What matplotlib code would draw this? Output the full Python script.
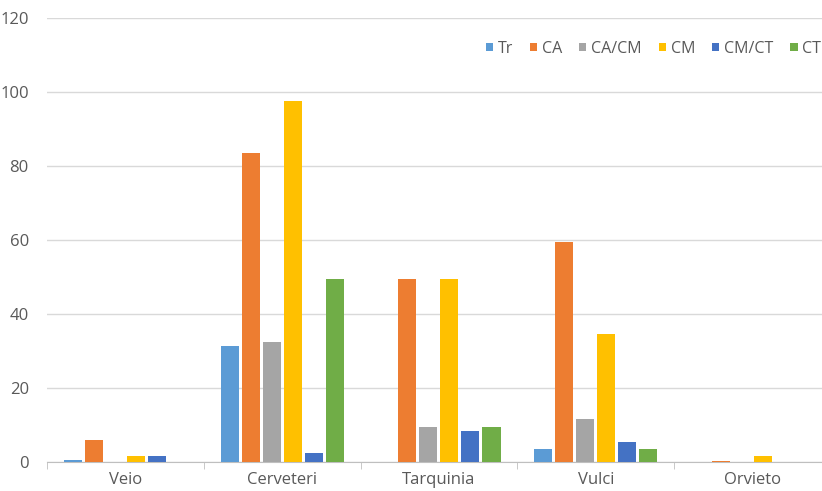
import matplotlib
matplotlib.use("Agg")
import matplotlib.pyplot as plt
import numpy as np

plt.rcParams['font.family'] = ['Open Sans', 'DejaVu Sans']

# sites and series
sites = ['Veio', 'Cerveteri', 'Tarquinia', 'Vulci', 'Orvieto']
series = ['Tr', 'CA', 'CA/CM', 'CM', 'CM/CT', 'CT']
tr = [0.5, 31.5, 0, 3.5, 0]
ca = [6, 83.5, 49.5, 59.5, 0.3]
ca_cm = [0, 32.5, 9.5, 11.5, 0]
cm = [1.5, 97.5, 49.5, 34.5, 1.5]
cm_ct = [1.5, 2.5, 8.5, 5.5, 0]
ct = [0, 49.5, 9.5, 3.5, 0]
colors = ['#5B9BD5', '#ED7D31', '#A5A5A5', '#FFC000', '#4472C4', '#70AD47']

values = [tr, ca, ca_cm, cm, cm_ct, ct]

fig = plt.figure(figsize=(8.22, 4.91), dpi=100)
# axis runs a little past the right edge, as in the original crop
ax = fig.add_axes([0.057, 0.059, 0.954, 0.904])

x = np.arange(len(sites))
pitch = 0.134
width = 0.115
for i, (name, vals) in enumerate(zip(series, values)):
    ax.bar(x + (i - 2.5) * pitch, vals, width, color=colors[i], label=name, zorder=3)

ax.set_xlim(-0.5, len(sites) - 0.5)
ax.set_ylim(0, 120)
ax.set_yticks(range(0, 121, 20))
ax.yaxis.grid(True, color='#D9D9D9', linewidth=1, zorder=0)
for s in ['top', 'right', 'left']:
    ax.spines[s].set_visible(False)
ax.spines['bottom'].set_color('#BFBFBF')
ax.tick_params(axis='y', length=0, labelsize=12, labelcolor='#595959', pad=13)
ax.set_xticks(x)
ax.set_xticklabels(sites)
ax.tick_params(axis='x', length=0, labelsize=12, labelcolor='#595959', pad=7)
# category separators below the axis
ax.set_xticks(np.arange(-0.5, len(sites)), minor=True)
ax.tick_params(axis='x', which='minor', length=5, color='#BFBFBF')

fig.legend(loc='upper right', bbox_to_anchor=(0.999, 0.917), ncol=6, frameon=False,
           fontsize=11.5, labelcolor='#595959', handlelength=0.46, handleheight=0.46,
           handletextpad=0.3, columnspacing=1.05, borderpad=0, borderaxespad=0)

fig.savefig('out.png', dpi=100)
